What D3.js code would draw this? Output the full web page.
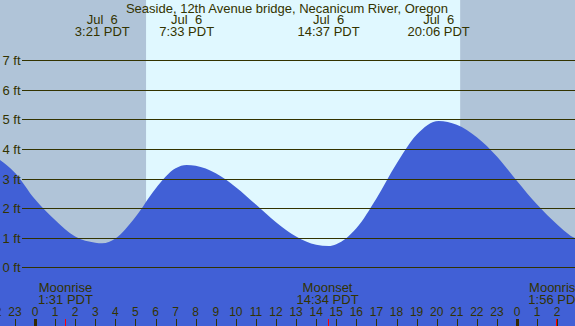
<!DOCTYPE html>
<html><head><meta charset="utf-8">
<script src="https://cdn.jsdelivr.net/npm/d3@7"></script>
<style>html,body{margin:0;padding:0;background:#fff;}svg{display:block;}</style>
</head><body>
<script>
const W = 575, H = 326;
const title = "Seaside, 12th Avenue bridge, Necanicum River, Oregon";
// tide curve, hours relative to Jul 6 00:00 PDT, heights in ft
const tideHours  = [-2, -1, 0, 1, 2, 3, 3.35, 4, 5, 6, 7, 7.55, 8, 9, 10, 11, 12, 13, 14, 14.62, 15, 16, 17, 18, 19, 20.1, 21, 22, 23, 24, 25, 26, 27, 28];
const tideHeights= [3.75, 3.2, 2.3, 1.6, 1.04, 0.83, 0.81, 0.97, 1.7, 2.66, 3.35, 3.46, 3.43, 3.18, 2.71, 2.12, 1.52, 1.04, 0.76, 0.72, 0.78, 1.32, 2.33, 3.5, 4.48, 4.95, 4.82, 4.4, 3.75, 2.92, 2.12, 1.45, 0.97, 0.9];
// extremes labels
const extremeHours = [3.35, 7.55, 14.62, 20.1];
const extremeDates = ["Jul  6", "Jul  6", "Jul  6", "Jul  6"];
const extremeTimes = ["3:21 PDT", "7:33 PDT", "14:37 PDT", "20:06 PDT"];
// sun
const sunrise = 5.53, sunset = 21.17;
// moon events
const moonHours = [1.517, 14.567, 25.933];
const moonNames = ["Moonrise", "Moonset", "Moonrise"];
const moonTimes = ["1:31 PDT", "14:34 PDT", "1:56 PDT"];
// axes
const ftTicks = [0, 1, 2, 3, 4, 5, 6, 7];
const hourTicks = d3.range(-2, 27);
const midnights = [0, 24];

const x = d3.scaleLinear().domain([0, 24]).range([35, 517]);
const y = d3.scaleLinear().domain([0, 7]).range([267.3, 60.3]);

const ink = "#333300";
const svg = d3.select("body").append("svg").attr("width", W).attr("height", H)
  .style("font-family", "'Liberation Sans', Arial, sans-serif");

// backgrounds
svg.append("rect").attr("x", 0).attr("y", 0).attr("width", W).attr("height", H).attr("fill", "#b0c4d8");
svg.append("rect").attr("x", x(sunrise)).attr("y", 0).attr("width", x(sunset) - x(sunrise)).attr("height", H).attr("fill", "#e0f8ff");

// tide area
const pts = tideHours.map((h, i) => [h, tideHeights[i]]);
const area = d3.area().x(d => x(d[0])).y0(H).y1(d => y(d[1])).curve(d3.curveMonotoneX);
svg.append("path").datum(pts).attr("d", area).attr("fill", "#4160d6");

// ft lines
const gy = svg.append("g");
ftTicks.forEach(f => {
  gy.append("line").attr("x1", 22).attr("x2", W).attr("y1", Math.round(y(f)) + 0.5).attr("y2", Math.round(y(f)) + 0.5)
    .attr("stroke", ink).attr("stroke-width", 1);
  gy.append("text").attr("x", 2.5).attr("y", Math.round(y(f)) + 5).attr("font-size", 13).attr("fill", ink).text(f + " ft");
});

// title
svg.append("text").attr("x", 287).attr("y", 13).attr("text-anchor", "middle").attr("font-size", 13).attr("fill", ink).text(title);

// extremes labels
extremeHours.forEach((h, i) => {
  svg.append("text").attr("x", x(h)).attr("y", 24).attr("text-anchor", "middle").attr("font-size", 13).attr("fill", ink)
    .style("white-space", "pre").text(extremeDates[i]);
  svg.append("text").attr("x", x(h)).attr("y", 36).attr("text-anchor", "middle").attr("font-size", 13).attr("fill", ink).text(extremeTimes[i]);
});

// hour ticks
hourTicks.forEach(h => {
  svg.append("text").attr("x", x(h)).attr("y", 316).attr("text-anchor", "middle").attr("font-size", 12).attr("fill", ink)
    .text(((h % 24) + 24) % 24);
  svg.append("line").attr("x1", Math.round(x(h)) + 0.5).attr("x2", Math.round(x(h)) + 0.5).attr("y1", 319).attr("y2", H)
    .attr("stroke", ink).attr("stroke-width", 1);
});
midnights.forEach(h => {
  svg.append("rect").attr("x", Math.round(x(h)) - 1).attr("y", 319).attr("width", 3).attr("height", H - 319).attr("fill", "#332900");
});

// moon events
moonHours.forEach((h, i) => {
  svg.append("line").attr("x1", Math.round(x(h)) + 0.5).attr("x2", Math.round(x(h)) + 0.5).attr("y1", 319).attr("y2", H)
    .attr("stroke", "#ff0000").attr("stroke-width", 1);
  svg.append("text").attr("x", x(h)).attr("y", 292).attr("text-anchor", "middle").attr("font-size", 13).attr("fill", ink).text(moonNames[i]);
  svg.append("text").attr("x", x(h)).attr("y", 304).attr("text-anchor", "middle").attr("font-size", 13).attr("fill", ink).text(moonTimes[i]);
});
</script>
</body></html>
